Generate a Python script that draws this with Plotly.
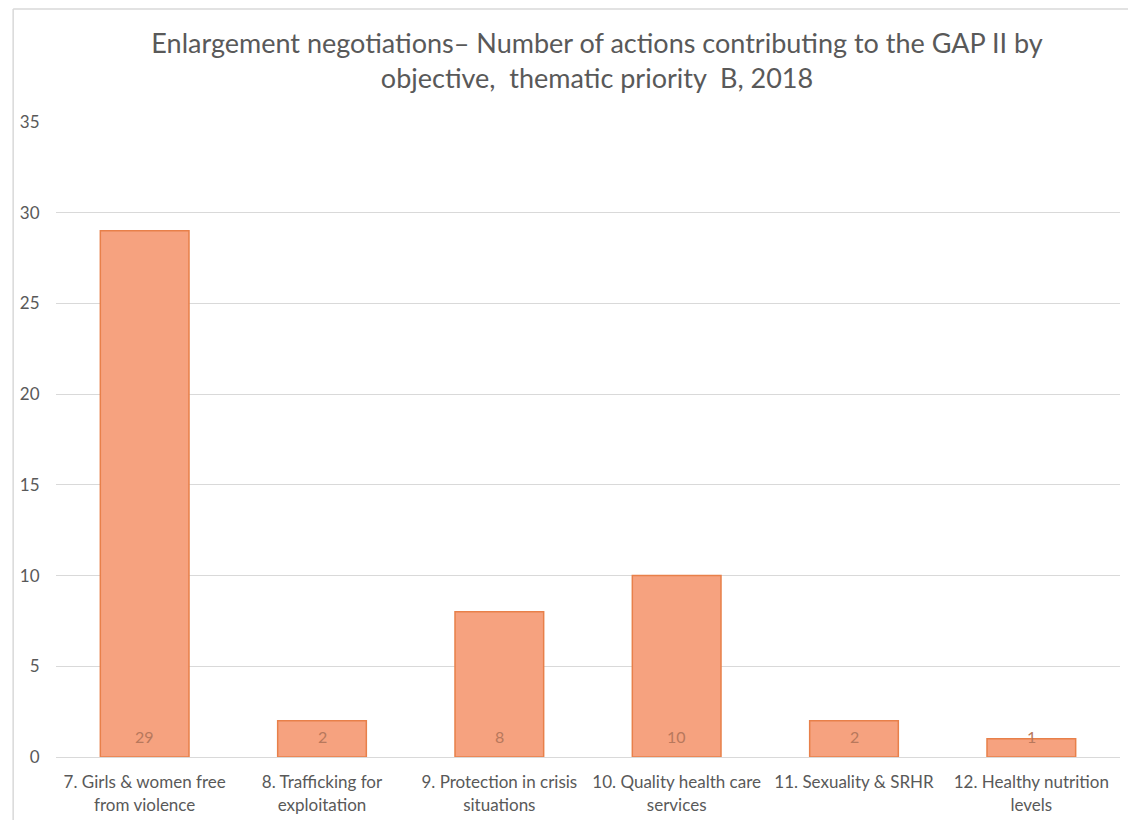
import plotly.graph_objects as go

categories = [
    "7. Girls & women free<br>from violence",
    "8. Trafficking for<br>exploitation",
    "9. Protection in crisis<br>situations",
    "10. Quality health care<br>services",
    "11. Sexuality & SRHR",
    "12. Healthy nutrition<br>levels",
]
values = [29, 2, 8, 10, 2, 1]
y_ticks = [0, 5, 10, 15, 20, 25, 30, 35]

title_text = ("Enlargement negotiations\u2013 Number of actions contributing to the GAP II by"
              "<br>objective,  thematic priority  B, 2018")

FONT = "Lato"
GRAY = "#595959"

PL, PR, PT, PB = 44, 24, 114, 71
W, H = 1136, 820
pw = W - PL - PR
ph = H - PT - PB
bx = (1 - PL) / pw
by = (H - PB - 1) / ph

fig = go.Figure()
fig.add_trace(go.Bar(
    x=categories,
    y=values,
    marker=dict(color="#F6A27F", line=dict(color="#E8804A", width=1.5)),
    width=0.5,
    hoverinfo="x+y",
))

annotations = []
for c, v in zip(categories, values):
    annotations.append(dict(
        x=c, y=0, xref="x", yref="y", text=str(v), showarrow=False,
        yshift=21, font=dict(family=FONT, size=16, color="#B8785C"),
    ))

fig.update_layout(
    width=W, height=H,
    margin=dict(l=PL, r=PR, t=PT, b=PB),
    paper_bgcolor="white", plot_bgcolor="white",
    showlegend=False,
    title=dict(text=title_text, x=0.5185, xanchor="center", y=0.945, yanchor="top",
               font=dict(family=FONT, size=27, color=GRAY)),
    annotations=annotations,
    shapes=[
        dict(type="line", xref="paper", yref="paper", x0=bx, x1=1.2, y0=by, y1=by,
             line=dict(color="#D9D9D9", width=1.5)),
        dict(type="line", xref="paper", yref="paper", x0=bx, x1=bx, y0=by, y1=-0.2,
             line=dict(color="#D9D9D9", width=1.5)),
    ],
)
fig.update_xaxes(
    showgrid=False, showline=False, zeroline=False,
    ticks="outside", ticklen=10, tickcolor="rgba(0,0,0,0)",
    tickfont=dict(family=FONT, size=17, color=GRAY),
    tickangle=0,
)
fig.update_yaxes(
    range=[0, 35], tickvals=y_ticks, showgrid=True, gridcolor="#D9D9D9", gridwidth=1,
    zeroline=True, zerolinecolor="#D9D9D9", zerolinewidth=1, showline=False,
    ticks="outside", ticklen=12, tickcolor="rgba(0,0,0,0)",
    tickfont=dict(family=FONT, size=17, color=GRAY),
)

fig.write_html("out.html")
